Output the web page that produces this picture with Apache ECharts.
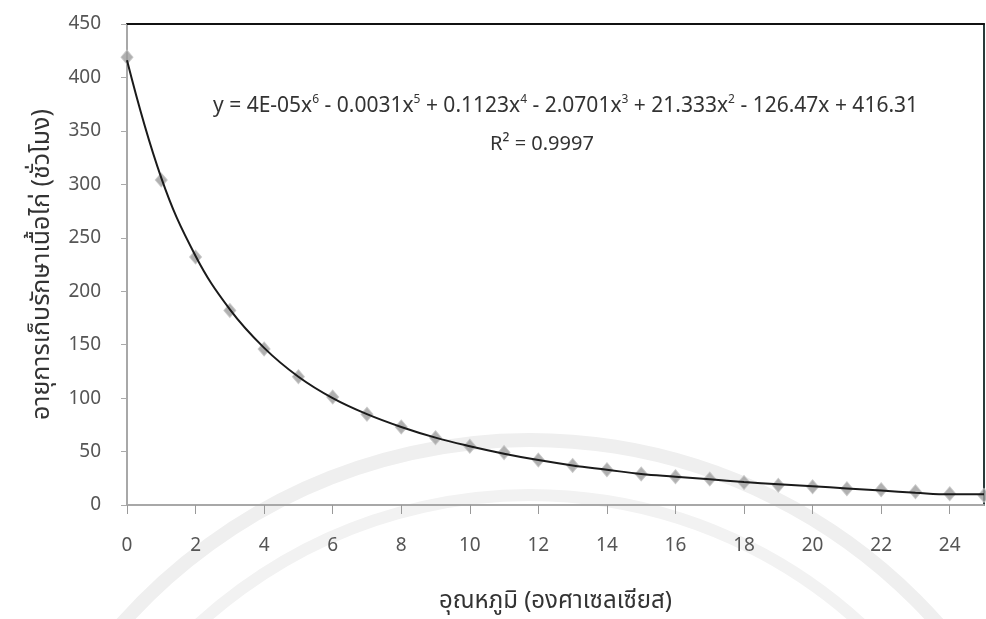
<!DOCTYPE html>
<html>
<head>
<meta charset="utf-8">
<script src="https://cdn.jsdelivr.net/npm/echarts@6/dist/echarts.min.js"></script>
<style>
html,body{margin:0;padding:0;background:#fff;}
#chart{width:986px;height:619px;}
</style>
</head>
<body>
<div id="chart"></div>
<script>
// Temperature (°C)
const temperatures = [0,1,2,3,4,5,6,7,8,9,10,11,12,13,14,15,16,17,18,19,20,21,22,23,24,25];
// Observed shelf life (hours)
const shelfLife = [419,304,232,182,146,120,101,85,73,63,55,49,42,37,33,29,26.5,24.3,21,18.4,17,15.3,14.3,12.5,10.6,9];
// Fitted trend line values (hours)
const trendLine = [416,306,233,183,147,120,100,85,73,63,55,48,42,37,33,29,26.5,24,21.5,19.5,17.5,15.5,13.5,11.5,10,10];
const yTicks = [0,50,100,150,200,250,300,350,400,450];
const xTickLabels = ['0','2','4','6','8','10','12','14','16','18','20','22','24'];
const xTitle = 'อุณหภูมิ (องศาเซลเซียส)';
const yTitle = 'อายุการเก็บรักษาเนื้อไก่ (ชั่วโมง)';

const font = "'Noto Sans', 'Noto Sans Thai', 'DejaVu Sans', sans-serif";
const chart = echarts.init(document.getElementById('chart'));
const pts = temperatures.map((t, i) => [t, shelfLife[i]]);
const fit = temperatures.map((t, i) => [t, trendLine[i]]);

chart.setOption({
  animation: false,
  backgroundColor: '#ffffff',
  grid: {left: 127, right: 2, top: 24, bottom: 114},
  graphic: [
    {type: 'arc', z: -10, silent: true, shape: {cx: 530, cy: 985, r: 545, startAngle: Math.PI * 1.05, endAngle: Math.PI * 1.95},
     style: {stroke: '#efefef', lineWidth: 14, fill: null}},
    {type: 'arc', z: -10, silent: true, shape: {cx: 530, cy: 985, r: 490, startAngle: Math.PI * 1.05, endAngle: Math.PI * 1.95},
     style: {stroke: '#f2f2f2', lineWidth: 12, fill: null}},
    {type: 'text', left: 213, top: 94, z: 10,
     style: {
       text: 'y = 4E-05x{s|6} - 0.0031x{s|5} + 0.1123x{s|4} - 2.0701x{s|3} + 21.333x{s|2} - 126.47x + 416.31',
       font: '21px ' + font, fill: '#333',
       rich: {s: {fontSize: 12, verticalAlign: 'top', padding: [0, 0, 12, 0], fill: '#333', fontFamily: font}}
     }},
    {type: 'text', left: 490, top: 134, z: 10,
     style: {text: 'R² = 0.9997', font: '20px ' + font, fill: '#333'}}
  ],
  xAxis: [{
    type: 'value', min: 0, max: 25, interval: 2,
    name: xTitle, nameLocation: 'middle', nameGap: 84,
    nameTextStyle: {fontSize: 24, color: '#333', fontFamily: font},
    axisLine: {show: true, onZero: false, lineStyle: {color: '#a8a8a8', width: 2}},
    axisTick: {show: true, length: 9, lineStyle: {color: '#999'}},
    axisLabel: {margin: 31, fontSize: 19, color: '#555', fontFamily: font, showMaxLabel: false,
      formatter: v => xTickLabels.includes(String(v)) ? String(v) : ''},
    splitLine: {show: false}
  }, {
    type: 'value', min: 0, max: 25, position: 'top',
    axisLine: {show: true, onZero: false, lineStyle: {color: '#111', width: 2}},
    axisTick: {show: false}, axisLabel: {show: false}, splitLine: {show: false}
  }],
  yAxis: [{
    type: 'value', min: 0, max: 450, interval: 50,
    name: yTitle, nameLocation: 'middle', nameGap: 73, nameRotate: 90,
    nameTextStyle: {fontSize: 25, color: '#333', fontFamily: font},
    axisLine: {show: true, onZero: false, lineStyle: {color: '#a8a8a8', width: 2}},
    axisTick: {show: true, length: 6, lineStyle: {color: '#aaa'}},
    axisLabel: {margin: 26, fontSize: 19, color: '#555', fontFamily: font,
      formatter: v => yTicks.includes(v) ? String(v) : ''},
    splitLine: {show: false}
  }, {
    type: 'value', min: 0, max: 450, position: 'right',
    axisLine: {show: true, onZero: false, lineStyle: {color: '#2a3a3a', width: 2}},
    axisTick: {show: false}, axisLabel: {show: false}, splitLine: {show: false}
  }],
  series: [{
    type: 'scatter', data: pts, symbol: 'diamond', symbolSize: [12, 14], z: 2,
    itemStyle: {color: '#9c9c9c', borderColor: '#c4c4c4', borderWidth: 1}
  }, {
    type: 'line', data: fit, smooth: 0.4, showSymbol: false, z: 3,
    lineStyle: {color: '#1a1a1a', width: 2}
  }]
});
</script>
</body>
</html>
